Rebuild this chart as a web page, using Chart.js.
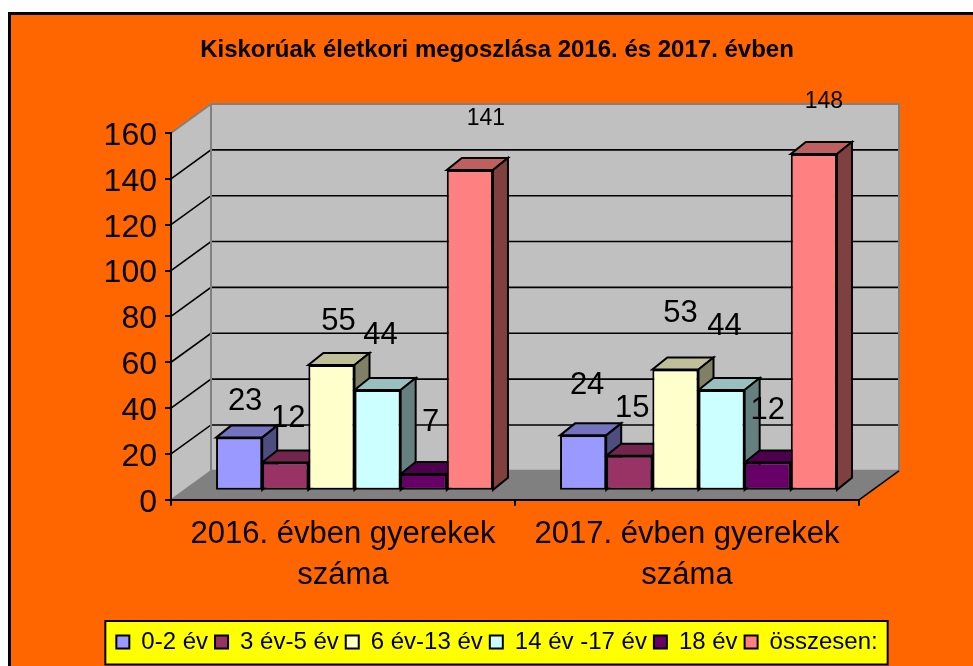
<!DOCTYPE html>
<html><head><meta charset="utf-8">
<style>html,body{margin:0;padding:0;background:#fff;overflow:hidden}canvas{display:block}</style>
<script src="https://cdn.jsdelivr.net/npm/chart.js@4"></script>
</head><body><canvas id="c" width="973" height="666"></canvas>
<script>
const categories = [['2016. évben gyerekek','száma'],['2017. évben gyerekek','száma']];
const seriesNames = ['0-2 év','3 év-5 év','6 év-13 év','14 év -17 év','18 év','összesen:'];
const age0to2 = [23,24];
const age3to5 = [12,15];
const age6to13 = [55,53];
const age14to17 = [44,44];
const age18 = [7,12];
const total = [141,148];
const seriesValues = [age0to2,age3to5,age6to13,age14to17,age18,total];
const seriesColors = ['#9999FF','#993366','#FFFFCC','#CCFFFF','#660066','#FF8080'];
const titleText = 'Kiskorúak életkori megoszlása 2016. és 2017. évben';
const FONT = '"Liberation Sans", Arial, sans-serif';

// styling of the pseudo 3D look
const wallDepth = {x:40,y:-29};
const barDepth = {x:15,y:-12};
const barShift = 11.5;
const labelOffsets = [
  [[6,-36],[4,-50]],[[3,-44],[3,-47]],[[7,-44],[5,-56]],
  [[3,-55],[3,-64]],[[7,-51],[0,-52]],[[16,-51],[10,-52]]];
const labelSizes = [31,31,31,31,31,23];

function shade(hex,f){
  const n=parseInt(hex.slice(1),16);
  return 'rgb('+[(n>>16)&255,(n>>8)&255,n&255].map(v=>Math.round(v*f)).join(',')+')';
}
function poly(ctx,pts,fill,stroke,lw){
  ctx.beginPath();pts.forEach((p,i)=>i?ctx.lineTo(p[0],p[1]):ctx.moveTo(p[0],p[1]));ctx.closePath();
  if(fill){ctx.fillStyle=fill;ctx.fill();}
  if(stroke){ctx.strokeStyle=stroke;ctx.lineWidth=lw;ctx.lineJoin='miter';ctx.stroke();}
}
const scene = {
  id:'scene',
  beforeDraw(chart){
    const {ctx,width,height,chartArea:a,scales} = chart, y=scales.y, d=wallDepth;
    ctx.save();
    ctx.fillStyle='#000';ctx.fillRect(8,12,width,height);
    ctx.fillStyle='#FF6600';ctx.fillRect(11,15,width,height);
    // legend box
    const hb=chart.legend.legendHitBoxes, L=hb[0].left-11, R=hb[hb.length-1].left+hb[hb.length-1].width+10;
    const T=chart.legend.top-2, H=chart.legend.height+2.5;
    ctx.fillStyle='#FFFF00';ctx.strokeStyle='#000';ctx.lineWidth=2;
    ctx.fillRect(L,T,R-L,H);
    ctx.strokeRect(L,T,R-L,H);
    const l=a.left,r=a.right,t=a.top,b=a.bottom;
    // floor
    poly(ctx,[[l,b],[r,b],[r+d.x,b+d.y],[l+d.x,b+d.y]],'#808080');
    // walls
    poly(ctx,[[l,t],[l+d.x,t+d.y],[l+d.x,b+d.y],[l,b]],'#C0C0C0');
    poly(ctx,[[l+d.x,t+d.y],[r+d.x,t+d.y],[r+d.x,b+d.y],[l+d.x,b+d.y]],'#C0C0C0');
    // grid
    ctx.strokeStyle='#000';ctx.lineWidth=1.6;
    y.ticks.forEach(tk=>{
      if(tk.value===y.min||tk.value===y.max)return;
      const py=y.getPixelForValue(tk.value);
      ctx.beginPath();ctx.moveTo(l,py);ctx.lineTo(l+d.x,py+d.y);ctx.lineTo(r+d.x,py+d.y);ctx.stroke();
    });
    // wall outlines
    ctx.strokeStyle='#808080';ctx.lineWidth=2;
    ctx.beginPath();ctx.moveTo(l,t);ctx.lineTo(l+d.x,t+d.y);ctx.lineTo(r+d.x,t+d.y);ctx.lineTo(r+d.x,b+d.y);ctx.lineTo(l+d.x,b+d.y);ctx.moveTo(l+d.x,t+d.y);ctx.lineTo(l+d.x,b+d.y);ctx.stroke();
    ctx.lineWidth=1.5;
    ctx.beginPath();ctx.moveTo(l+d.x,b+d.y);ctx.lineTo(l,b);ctx.stroke();
    ctx.strokeStyle='#000';ctx.lineWidth=1.5;
    ctx.beginPath();ctx.moveTo(r,b);ctx.lineTo(r+d.x,b+d.y);ctx.stroke();
    ctx.restore();
  },
  beforeDatasetsDraw(chart){
    const {ctx}=chart, d=barDepth;
    ctx.save();
    ctx.translate(barShift,0);
    const n=chart.data.labels.length;
    for(let c=0;c<n;c++){
      chart.data.datasets.forEach((ds,i)=>{
        const e=chart.getDatasetMeta(i).data[c], w=e.width/2;
        const x0=e.x-w,x1=e.x+w,top=e.y,base=e.base;
        poly(ctx,[[x0,top],[x0+d.x,top+d.y],[x1+d.x,top+d.y],[x1,top]],shade(seriesColors[i],.75),'#000',2);
        poly(ctx,[[x1,top],[x1+d.x,top+d.y],[x1+d.x,base+d.y],[x1,base]],shade(seriesColors[i],.5),'#000',2);
      });
    }
  },
  afterDatasetsDraw(chart){
    const {ctx}=chart;
    ctx.restore();
    ctx.save();
    ctx.fillStyle='#000';ctx.textAlign='center';ctx.textBaseline='middle';
    chart.data.datasets.forEach((ds,i)=>{
      ctx.font=labelSizes[i]+'px '+FONT;
      chart.getDatasetMeta(i).data.forEach((e,c)=>{
        const o=labelOffsets[i][c];
        ctx.fillText(String(ds.data[c]),e.x+barShift+o[0],e.y+o[1]);
      });
    });
    ctx.restore();
  }
};
new Chart(document.getElementById('c'),{
  type:'bar',
  data:{labels:categories,datasets:seriesNames.map((name,i)=>({
    label:name,data:seriesValues[i],yAxisID:'yBars',
    backgroundColor:seriesColors[i],borderColor:'#000',borderWidth:2,borderSkipped:false,
    barPercentage:1,categoryPercentage:0.805,clip:false
  }))},
  plugins:[scene],
  options:{
    responsive:false,animation:false,devicePixelRatio:1,
    layout:{padding:{left:21,right:0,top:0,bottom:2}},
    plugins:{
      tooltip:{enabled:false},
      title:{display:true,text:titleText,color:'#000',font:{family:FONT,size:24,weight:'bold',lineHeight:1.2},padding:{top:36,bottom:68.2}},
      legend:{display:true,position:'bottom',labels:{color:'#000',font:{family:FONT,size:24},boxWidth:13,boxHeight:13,padding:7}}
    },
    scales:{
      x:{type:'category',
        grid:{drawOnChartArea:false,color:'#000',lineWidth:2,tickLength:6},
        border:{color:'#000',width:2},
        ticks:{color:'#000',maxRotation:0,minRotation:0,autoSkip:false,padding:8,font:{family:FONT,size:31,lineHeight:1.32}},
        afterFit(s){s.height=123.2;}
      },
      y:{type:'linear',position:'left',min:0,max:160,
        grid:{drawOnChartArea:false,color:'#000',lineWidth:2,tickLength:6},
        border:{color:'#000',width:2},
        ticks:{color:'#000',stepSize:20,padding:8,labelOffset:3,font:{family:FONT,size:32}},
        afterFit(s){s.width=150;}
      },
      yBars:{type:'linear',position:'right',min:-4.41,max:157.27,
        grid:{display:false},border:{display:false},ticks:{display:false},
        afterFit(s){s.width=114;}
      }
    }
  }
});
</script></body></html>
